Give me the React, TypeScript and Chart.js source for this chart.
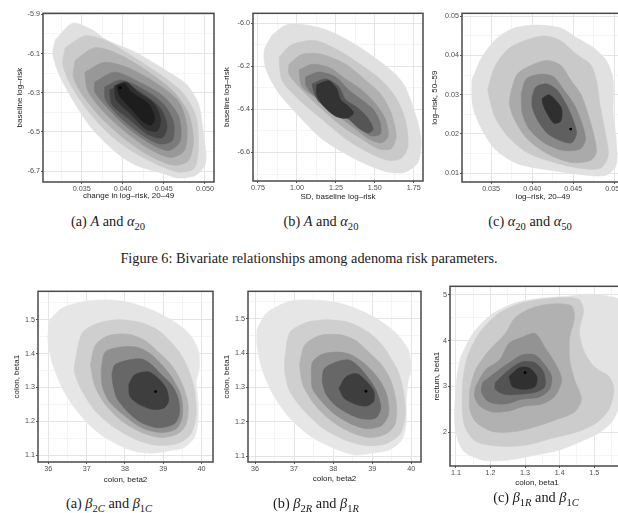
import React, { useEffect, useRef } from 'react';
import { Chart, registerables } from 'chart.js';
Chart.register(...registerables);

type Pt = [number, number];

// ---------- (a) top: change in log-risk 20-49 vs baseline log-risk ----------
const topA1: Pt[] = [[0.0318,-6.03],[0.0339,-5.945],[0.0363,-5.98],[0.038,-6.03],[0.0416,-6.095],[0.0452,-6.185],[0.0477,-6.255],[0.0492,-6.355],[0.0498,-6.505],[0.0501,-6.655],[0.0489,-6.72],[0.0468,-6.735],[0.0448,-6.71],[0.0416,-6.67],[0.0392,-6.605],[0.0363,-6.485],[0.0344,-6.37],[0.0324,-6.22],[0.0315,-6.105]];
const topA2: Pt[] = [[0.0330,-6.07],[0.0354,-6.01],[0.0380,-6.035],[0.0414,-6.12],[0.0450,-6.22],[0.0474,-6.305],[0.0489,-6.42],[0.0492,-6.57],[0.0487,-6.685],[0.0468,-6.705],[0.0444,-6.67],[0.0414,-6.605],[0.0386,-6.52],[0.0360,-6.405],[0.0338,-6.27],[0.0327,-6.155]];
const topA3: Pt[] = [[0.0342,-6.135],[0.0366,-6.07],[0.0396,-6.105],[0.0432,-6.195],[0.0462,-6.295],[0.0480,-6.405],[0.0486,-6.545],[0.0480,-6.645],[0.0462,-6.67],[0.0432,-6.62],[0.0402,-6.535],[0.0372,-6.42],[0.0350,-6.305],[0.0340,-6.22]];
const topA4: Pt[] = [[0.0354,-6.195],[0.0378,-6.145],[0.0408,-6.175],[0.0442,-6.255],[0.0468,-6.345],[0.0478,-6.47],[0.0475,-6.595],[0.0458,-6.63],[0.0432,-6.585],[0.0402,-6.495],[0.0374,-6.385],[0.0357,-6.285]];
const topA5: Pt[] = [[0.0366,-6.245],[0.0390,-6.195],[0.0420,-6.245],[0.0450,-6.32],[0.0468,-6.42],[0.0470,-6.545],[0.0456,-6.595],[0.0432,-6.555],[0.0402,-6.465],[0.0378,-6.36],[0.0366,-6.295]];
const topA6: Pt[] = [[0.0378,-6.27],[0.0398,-6.235],[0.0426,-6.285],[0.0450,-6.36],[0.0462,-6.455],[0.0460,-6.545],[0.0444,-6.56],[0.0420,-6.505],[0.0393,-6.41],[0.0379,-6.335]];
const topA7: Pt[] = [[0.0384,-6.285],[0.0402,-6.255],[0.0426,-6.31],[0.0446,-6.38],[0.0454,-6.47],[0.0448,-6.53],[0.0430,-6.51],[0.0408,-6.435],[0.0387,-6.36]];
const topA8: Pt[] = [[0.0390,-6.265],[0.0404,-6.245],[0.0418,-6.295],[0.0438,-6.355],[0.0446,-6.435],[0.0442,-6.495],[0.0428,-6.485],[0.0410,-6.41],[0.0392,-6.335]];
const topA9: Pt[] = [[0.0393,-6.265],[0.0402,-6.255],[0.0410,-6.295],[0.0432,-6.36],[0.0439,-6.435],[0.0434,-6.465],[0.0424,-6.445],[0.0411,-6.385],[0.0396,-6.315]];
const topAMode: Pt[] = [[0.0397,-6.275]];
const topAColors = ['#e0e0e0','#cbcbcb','#b3b3b3','#989898','#7b7b7b','#5f5f5f','#454545','#2f2f2f','#1d1d1d'];

// ---------- (b) top: SD baseline log-risk vs baseline log-risk ----------
const topB1: Pt[] = [[0.841,-6.055],[0.930,-6.009],[1.057,-6.009],[1.204,-6.036],[1.376,-6.1],[1.522,-6.173],[1.631,-6.236],[1.694,-6.295],[1.758,-6.418],[1.796,-6.536],[1.777,-6.645],[1.694,-6.691],[1.586,-6.691],[1.459,-6.659],[1.331,-6.614],[1.159,-6.536],[1.013,-6.432],[0.885,-6.327],[0.803,-6.218],[0.790,-6.127]];
const topB2: Pt[] = [[0.885,-6.159],[0.968,-6.1],[1.121,-6.082],[1.268,-6.127],[1.414,-6.195],[1.541,-6.264],[1.631,-6.341],[1.694,-6.445],[1.713,-6.568],[1.669,-6.627],[1.586,-6.636],[1.459,-6.6],[1.312,-6.536],[1.159,-6.445],[1.013,-6.355],[0.904,-6.264]];
const topB3: Pt[] = [[0.949,-6.191],[1.032,-6.145],[1.159,-6.145],[1.312,-6.191],[1.439,-6.264],[1.541,-6.332],[1.605,-6.418],[1.637,-6.523],[1.605,-6.582],[1.522,-6.582],[1.414,-6.536],[1.287,-6.477],[1.14,-6.386],[1.013,-6.295],[0.949,-6.236]];
const topB4: Pt[] = [[1.013,-6.218],[1.096,-6.191],[1.204,-6.205],[1.312,-6.259],[1.414,-6.309],[1.503,-6.373],[1.567,-6.445],[1.586,-6.523],[1.541,-6.555],[1.459,-6.536],[1.376,-6.491],[1.268,-6.432],[1.14,-6.355],[1.032,-6.295]];
const topB5: Pt[] = [[1.057,-6.25],[1.14,-6.227],[1.248,-6.25],[1.331,-6.309],[1.414,-6.355],[1.49,-6.4],[1.535,-6.464],[1.535,-6.514],[1.478,-6.523],[1.395,-6.486],[1.312,-6.432],[1.204,-6.386],[1.096,-6.327],[1.057,-6.286]];
const topB6: Pt[] = [[1.096,-6.282],[1.185,-6.259],[1.268,-6.295],[1.312,-6.355],[1.376,-6.386],[1.446,-6.432],[1.49,-6.491],[1.459,-6.509],[1.395,-6.486],[1.331,-6.445],[1.248,-6.418],[1.14,-6.364],[1.108,-6.318]];
const topB7: Pt[] = [[1.127,-6.286],[1.204,-6.268],[1.255,-6.305],[1.28,-6.355],[1.331,-6.386],[1.363,-6.418],[1.318,-6.441],[1.248,-6.432],[1.172,-6.386],[1.127,-6.332]];
const topBMode: Pt[] = [];
const topBColors = ['#e0e0e0','#c9c9c9','#b0b0b0','#959595','#777777','#555555','#333333'];

// ---------- (c) top: log-risk 20-49 vs log-risk 50-59 ----------
const topC1: Pt[] = [[0.03265,0.03375],[0.03386,0.0395],[0.03578,0.0445],[0.03783,0.047],[0.0406,0.04775],[0.04349,0.047],[0.04542,0.0445],[0.04747,0.042],[0.04904,0.03875],[0.04988,0.03375],[0.04988,0.02525],[0.05024,0.01875],[0.05024,0.012],[0.04904,0.0095],[0.04663,0.0095],[0.04386,0.01025],[0.0406,0.01125],[0.03783,0.01275],[0.03542,0.01625],[0.03386,0.02125],[0.03277,0.027]];
const topC2: Pt[] = [[0.03458,0.03125],[0.03542,0.037],[0.03699,0.0415],[0.03904,0.04375],[0.04145,0.045],[0.04349,0.04375],[0.04542,0.04025],[0.04711,0.03775],[0.04783,0.03375],[0.04831,0.027],[0.04892,0.02025],[0.04928,0.0145],[0.04831,0.01125],[0.0459,0.01125],[0.04265,0.01275],[0.0394,0.01525],[0.03699,0.0195],[0.03542,0.0245]];
const topC3: Pt[] = [[0.03747,0.03125],[0.03819,0.03525],[0.03988,0.0375],[0.04181,0.03875],[0.04349,0.0375],[0.0447,0.03375],[0.0459,0.03025],[0.04663,0.02625],[0.04747,0.02025],[0.04783,0.01525],[0.04711,0.01325],[0.0447,0.01275],[0.04181,0.015],[0.0394,0.01875],[0.03783,0.02375],[0.03723,0.02775]];
const topC4: Pt[] = [[0.03867,0.03025],[0.03928,0.034],[0.04108,0.03525],[0.04265,0.0345],[0.04386,0.03125],[0.04506,0.02775],[0.0459,0.02375],[0.04651,0.01875],[0.0459,0.01625],[0.04386,0.01575],[0.04145,0.01775],[0.03964,0.02125],[0.0388,0.02525]];
const topC5: Pt[] = [[0.04,0.0295],[0.04048,0.032],[0.04181,0.03275],[0.04301,0.03125],[0.0441,0.02775],[0.04482,0.0245],[0.04542,0.02025],[0.04482,0.01775],[0.04349,0.01825],[0.04181,0.02025],[0.0406,0.02375],[0.04,0.027]];
const topC6: Pt[] = [[0.0412,0.029],[0.04205,0.03],[0.04301,0.02825],[0.04361,0.02625],[0.04349,0.02325],[0.04265,0.02275],[0.04181,0.02525],[0.04133,0.0275]];
const topCMode: Pt[] = [[0.0447,0.02125]];
const topCColors = ['#e1e1e1','#c9c9c9','#aaaaaa','#898989','#5f5f5f','#2f2f2f'];

// ---------- (a) bottom: colon beta2 vs colon beta1 ----------
const botA1: Pt[] = [[36.04,1.5],[36.37,1.535],[36.97,1.555],[37.66,1.558],[38.18,1.549],[38.70,1.529],[39.21,1.5],[39.65,1.462],[39.91,1.413],[39.94,1.355],[39.86,1.317],[39.91,1.259],[39.91,1.201],[39.81,1.152],[39.55,1.123],[39.21,1.114],[38.70,1.106],[38.18,1.114],[37.48,1.152],[36.97,1.201],[36.45,1.28],[36.12,1.367],[35.99,1.442]];
const botA2: Pt[] = [[36.71,1.384],[36.89,1.462],[37.33,1.491],[37.85,1.5],[38.44,1.491],[38.88,1.468],[39.21,1.433],[39.47,1.396],[39.65,1.355],[39.81,1.297],[39.86,1.222],[39.73,1.164],[39.39,1.135],[38.88,1.129],[38.36,1.143],[37.74,1.181],[37.23,1.23],[36.89,1.288],[36.68,1.346]];
const botA3: Pt[] = [[37.10,1.367],[37.23,1.425],[37.59,1.454],[38.10,1.457],[38.52,1.439],[38.88,1.404],[39.21,1.367],[39.47,1.317],[39.65,1.251],[39.60,1.193],[39.39,1.164],[38.95,1.152],[38.44,1.167],[37.92,1.201],[37.48,1.251],[37.20,1.309]];
const botA4: Pt[] = [[37.38,1.352],[37.48,1.404],[37.85,1.419],[38.31,1.419],[38.67,1.399],[39.01,1.361],[39.26,1.323],[39.47,1.274],[39.50,1.216],[39.34,1.178],[38.93,1.167],[38.44,1.181],[38.0,1.216],[37.59,1.259],[37.41,1.303]];
const botA5: Pt[] = [[37.66,1.338],[37.74,1.367],[38.10,1.381],[38.44,1.384],[38.70,1.367],[38.95,1.338],[39.21,1.309],[39.39,1.268],[39.42,1.222],[39.29,1.193],[38.88,1.181],[38.44,1.196],[38.10,1.225],[37.79,1.268],[37.69,1.309]];
const botA6: Pt[] = [[38.10,1.309],[38.26,1.338],[38.62,1.346],[38.88,1.326],[39.08,1.297],[39.14,1.259],[39.01,1.239],[38.70,1.236],[38.36,1.251],[38.13,1.274]];
const botAMode: Pt[] = [[38.80,1.288]];
const botAColors = ['#e6e6e6','#cfcfcf','#b2b2b2','#8f8f8f','#676767','#3e3e3e'];

// ---------- (b) bottom: colon beta2 vs colon beta1 ----------
const botB1: Pt[] = [[36.05,1.469],[36.30,1.517],[36.89,1.551],[37.57,1.554],[38.15,1.546],[38.66,1.526],[39.16,1.497],[39.59,1.46],[39.92,1.411],[40.0,1.354],[39.92,1.317],[39.87,1.26],[39.87,1.194],[39.75,1.146],[39.42,1.117],[38.99,1.109],[38.58,1.103],[38.15,1.117],[37.47,1.154],[36.89,1.211],[36.46,1.28],[36.18,1.354],[36.05,1.423]];
const botB2: Pt[] = [[36.76,1.383],[36.89,1.46],[37.32,1.489],[37.82,1.497],[38.41,1.489],[38.91,1.46],[39.24,1.426],[39.49,1.383],[39.67,1.346],[39.80,1.289],[39.85,1.223],[39.72,1.166],[39.37,1.137],[38.86,1.131],[38.33,1.146],[37.72,1.183],[37.22,1.237],[36.89,1.289],[36.76,1.346]];
const botB3: Pt[] = [[37.14,1.366],[37.27,1.423],[37.65,1.451],[38.15,1.454],[38.58,1.437],[38.91,1.403],[39.24,1.366],[39.49,1.317],[39.62,1.251],[39.59,1.194],[39.37,1.166],[38.96,1.154],[38.46,1.169],[37.95,1.203],[37.52,1.251],[37.22,1.309]];
const botB4: Pt[] = [[37.44,1.337],[37.47,1.374],[37.72,1.397],[38.15,1.403],[38.48,1.394],[38.84,1.366],[39.16,1.326],[39.37,1.28],[39.42,1.223],[39.24,1.189],[38.86,1.18],[38.46,1.194],[38.03,1.223],[37.70,1.26],[37.47,1.297]];
const botB5: Pt[] = [[37.72,1.317],[37.77,1.354],[38.08,1.374],[38.41,1.38],[38.66,1.36],[38.91,1.326],[39.11,1.289],[39.22,1.24],[39.09,1.211],[38.73,1.209],[38.41,1.223],[38.08,1.246],[37.82,1.28]];
const botB6: Pt[] = [[38.15,1.297],[38.33,1.331],[38.61,1.34],[38.86,1.317],[39.04,1.289],[39.04,1.26],[38.86,1.246],[38.58,1.251],[38.28,1.269]];
const botBMode: Pt[] = [[38.84,1.289]];
const botBColors = ['#e6e6e6','#cfcfcf','#b2b2b2','#8f8f8f','#676767','#3e3e3e'];

// ---------- (c) bottom: colon beta1 vs rectum beta1 ----------
const botC1: Pt[] = [[1.114,3.642],[1.149,4.156],[1.206,4.585],[1.271,4.82],[1.349,4.927],[1.426,4.97],[1.483,5.013],[1.54,4.97],[1.577,4.863],[1.583,3.857],[1.577,2.786],[1.557,2.293],[1.52,2.015],[1.463,1.801],[1.397,1.608],[1.329,1.501],[1.254,1.394],[1.177,1.394],[1.12,1.608],[1.097,2.143],[1.1,2.936],[1.106,3.364]];
const botC2: Pt[] = [[1.12,3.15],[1.133,3.642],[1.167,4.156],[1.222,4.585],[1.29,4.82],[1.37,4.92],[1.454,4.906],[1.469,4.649],[1.457,4.221],[1.469,3.792],[1.5,3.428],[1.543,3.214],[1.557,2.936],[1.543,2.507],[1.511,2.229],[1.454,2.015],[1.377,1.865],[1.3,1.715],[1.226,1.694],[1.157,1.801],[1.125,2.143],[1.118,2.657]];
const botC3: Pt[] = [[1.14,2.936],[1.157,3.364],[1.197,3.792],[1.243,4.156],[1.271,4.499],[1.32,4.713],[1.377,4.799],[1.434,4.756],[1.443,4.499],[1.429,4.071],[1.429,3.578],[1.443,3.15],[1.463,2.722],[1.443,2.443],[1.397,2.293],[1.34,2.143],[1.271,2.015],[1.206,2.015],[1.157,2.229],[1.14,2.507]];
const botC4: Pt[] = [[1.157,3.0],[1.186,3.364],[1.226,3.578],[1.254,3.942],[1.291,4.071],[1.329,4.156],[1.357,3.857],[1.386,3.514],[1.406,3.15],[1.386,2.786],[1.349,2.615],[1.3,2.572],[1.254,2.465],[1.206,2.443],[1.169,2.572],[1.154,2.786]];
const botC5: Pt[] = [[1.177,3.086],[1.214,3.3],[1.254,3.514],[1.291,3.685],[1.329,3.685],[1.357,3.471],[1.377,3.214],[1.371,2.936],[1.34,2.764],[1.291,2.722],[1.243,2.615],[1.197,2.657],[1.174,2.872]];
const botC6: Pt[] = [[1.214,3.086],[1.254,3.364],[1.291,3.535],[1.329,3.514],[1.354,3.3],[1.357,3.0],[1.329,2.872],[1.283,2.829],[1.24,2.829],[1.214,2.936]];
const botC7: Pt[] = [[1.254,3.214],[1.283,3.407],[1.311,3.407],[1.334,3.214],[1.329,3.0],[1.297,2.936],[1.263,3.0]];
const botCMode: Pt[] = [[1.30,3.30]];
const botCColors = ['#e3e3e3','#cccccc','#b1b1b1','#939393','#747474','#535353','#303030'];

// ---------- layout / axis configuration ----------
const SANS = '"Liberation Sans", Arial, sans-serif';
const SERIF = '"Liberation Serif", "Times New Roman", serif';
const TITLE_SIZE = 8;
const TICK_SIZE = 7.2;

interface AxisCfg { min: number; max: number; minor: number; major: number; base: number; dec: number; title: string; }
interface PanelCfg {
  box: [number, number, number, number];
  yTitleX: number; xTitleY: number;
  x: AxisCfg; y: AxisCfg;
  levels: Pt[][]; colors: string[]; mode: Pt[];
}

const panels: PanelCfg[] = [
  { box: [43, 10, 216, 182], yTitleX: 20, xTitleY: 196,
    x: { min: 0.0303, max: 0.0511, minor: 0.0025, major: 0.005, base: 0.035, dec: 3, title: 'change in log–risk, 20–49' },
    y: { min: -6.755, max: -5.895, minor: 0.1, major: 0.2, base: -5.9, dec: 1, title: 'baseline log–risk' },
    levels: [topA1, topA2, topA3, topA4, topA5, topA6, topA7, topA8, topA9], colors: topAColors, mode: topAMode },
  { box: [253, 10, 423, 181], yTitleX: 227, xTitleY: 197,
    x: { min: 0.718, max: 1.809, minor: 0.125, major: 0.25, base: 0.75, dec: 2, title: 'SD, baseline log–risk' },
    y: { min: -6.732, max: -5.955, minor: 0.1, major: 0.2, base: -6.0, dec: 1, title: 'baseline log–risk' },
    levels: [topB1, topB2, topB3, topB4, topB5, topB6, topB7], colors: topBColors, mode: topBMode },
  { box: [462, 10, 626, 182], yTitleX: 435, xTitleY: 197,
    x: { min: 0.03145, max: 0.0512, minor: 0.0025, major: 0.005, base: 0.035, dec: 3, title: 'log–risk, 20–49' },
    y: { min: 0.00775, max: 0.05075, minor: 0.005, major: 0.01, base: 0.01, dec: 2, title: 'log–risk, 50–59' },
    levels: [topC1, topC2, topC3, topC4, topC5, topC6], colors: topCColors, mode: topCMode },
  { box: [38, 288, 215, 462], yTitleX: 17, xTitleY: 480,
    x: { min: 35.73, max: 40.30, minor: 0.5, major: 1, base: 36, dec: 0, title: 'colon, beta2' },
    y: { min: 1.08, max: 1.584, minor: 0.05, major: 0.1, base: 1.1, dec: 1, title: 'colon, beta1' },
    levels: [botA1, botA2, botA3, botA4, botA5, botA6], colors: botAColors, mode: botAMode },
  { box: [248, 288, 423, 462], yTitleX: 227, xTitleY: 479,
    x: { min: 35.82, max: 40.25, minor: 0.5, major: 1, base: 36, dec: 0, title: 'colon, beta2' },
    y: { min: 1.083, max: 1.58, minor: 0.05, major: 0.1, base: 1.1, dec: 1, title: 'colon, beta1' },
    levels: [botB1, botB2, botB3, botB4, botB5, botB6], colors: botBColors, mode: botBMode },
  { box: [450, 283, 626, 466], yTitleX: 437, xTitleY: 483,
    x: { min: 1.083, max: 1.586, minor: 0.05, major: 0.1, base: 1.1, dec: 1, title: 'colon, beta1' },
    y: { min: 1.263, max: 5.184, minor: 0.5, major: 1, base: 2, dec: 0, title: 'rectum, beta1' },
    levels: [botC1, botC2, botC3, botC4, botC5, botC6, botC7], colors: botCColors, mode: botCMode },
];

const boxPlugin = {
  id: 'panelBox',
  afterDatasetsDraw(chart: any) {
    const { ctx, chartArea: a } = chart;
    ctx.save();
    ctx.strokeStyle = '#4a4a4a';
    ctx.lineWidth = 1.5;
    ctx.strokeRect(a.left, a.top, a.right - a.left, a.bottom - a.top);
    ctx.restore();
  },
};

function makeAxis(a: AxisCfg, isX: boolean, fixed: number) {
  const isMajor = (v: number) => {
    const r = (v - a.base) / a.major;
    return Math.abs(r - Math.round(r)) < 1e-6;
  };
  const val = (c: any) => (c && c.tick ? c.tick.value : NaN);
  return {
    type: 'linear',
    position: isX ? 'bottom' : 'left',
    min: a.min,
    max: a.max,
    afterFit: (s: any) => { if (isX) s.height = fixed; else s.width = fixed; },
    border: { display: false },
    grid: {
      color: (c: any) => (isMajor(val(c)) ? '#e2e2e2' : '#efefef'),
      lineWidth: (c: any) => (isMajor(val(c)) ? 0.9 : 0.6),
      tickLength: 2,
      tickColor: (c: any) => (isMajor(val(c)) ? '#444444' : 'rgba(0,0,0,0)'),
      tickWidth: 0.9,
    },
    ticks: {
      stepSize: a.minor,
      includeBounds: false,
      autoSkip: false,
      maxRotation: 0,
      minRotation: 0,
      padding: 1,
      color: '#4d4d4d',
      font: { family: SANS, size: TICK_SIZE },
      callback: (v: any) => (isMajor(Number(v)) ? Number(v).toFixed(a.dec) : ''),
    },
    title: { display: true, text: a.title, color: '#1a1a1a', font: { family: SANS, size: TITLE_SIZE }, padding: 0 },
  };
}

function Panel({ cfg }: { cfg: PanelCfg }) {
  const ref = useRef<HTMLCanvasElement>(null);
  const [L, T, R, B] = cfg.box;
  const half = (TITLE_SIZE * 1.2) / 2;
  const cLeft = Math.round(cfg.yTitleX - half);
  const cTop = T - 2;
  const cRight = R + 2;
  const cBottom = Math.round(cfg.xTitleY + half);
  const W = cRight - cLeft;
  const H = cBottom - cTop;

  useEffect(() => {
    const n = cfg.levels.length;
    const datasets: any[] = cfg.levels.map((lv, i) => {
      const pts = lv.map(([x, y]) => ({ x, y }));
      pts.push({ x: lv[0][0], y: lv[0][1] });
      return {
        data: pts,
        order: n - i,
        fill: 'shape',
        backgroundColor: cfg.colors[i],
        borderColor: cfg.colors[i],
        borderWidth: 0.6,
        tension: 0.28,
        pointRadius: 0,
        pointHoverRadius: 0,
      };
    });
    datasets.push({
      data: cfg.mode.map(([x, y]) => ({ x, y })),
      order: 0,
      showLine: false,
      pointRadius: 1.4,
      pointBorderWidth: 0,
      pointBackgroundColor: '#000000',
      backgroundColor: '#000000',
      borderColor: '#000000',
    });
    const chart = new Chart(ref.current as HTMLCanvasElement, {
      type: 'line',
      data: { datasets },
      options: {
        responsive: false,
        animation: false,
        devicePixelRatio: 1,
        events: [],
        layout: { padding: { top: 2, right: 2, left: 0, bottom: 0 } },
        plugins: { legend: { display: false }, tooltip: { enabled: false } },
        scales: {
          x: makeAxis(cfg.x, true, cBottom - B),
          y: makeAxis(cfg.y, false, L - cLeft),
        },
      } as any,
      plugins: [boxPlugin],
    });
    return () => chart.destroy();
  }, []);

  return (
    <canvas
      ref={ref}
      width={W}
      height={H}
      style={{ position: 'absolute', left: cLeft, top: cTop, width: W, height: H }}
    />
  );
}

const subStyle: React.CSSProperties = { fontSize: '74%', verticalAlign: '-0.35em', lineHeight: 0 };

function Caption({ cx, cy, children }: { cx: number; cy: number; children: React.ReactNode }) {
  return (
    <div
      style={{
        position: 'absolute', left: cx - 200, width: 400, top: cy - 10, height: 20,
        textAlign: 'center', fontFamily: SERIF, fontSize: 14.3, lineHeight: '20px',
        color: '#1a1a1a', whiteSpace: 'nowrap',
      }}
    >
      {children}
    </div>
  );
}

export default function App() {
  return (
    <div style={{ position: 'absolute', left: 0, top: 0, width: 618, height: 513, overflow: 'hidden', background: '#ffffff' }}>
      {panels.map((p, i) => (
        <Panel key={i} cfg={p} />
      ))}
      <Caption cx={108} cy={221}>(a) <i>A</i> and <i>α</i><sub style={subStyle}>20</sub></Caption>
      <Caption cx={321} cy={221}>(b) <i>A</i> and <i>α</i><sub style={subStyle}>20</sub></Caption>
      <Caption cx={530} cy={221}>(c) <i>α</i><sub style={subStyle}>20</sub> and <i>α</i><sub style={subStyle}>50</sub></Caption>
      <Caption cx={309} cy={258}>Figure 6: Bivariate relationships among adenoma risk parameters.</Caption>
      <Caption cx={109} cy={503}>(a) <i>β</i><sub style={subStyle}>2<i>C</i></sub> and <i>β</i><sub style={subStyle}>1<i>C</i></sub></Caption>
      <Caption cx={316} cy={503}>(b) <i>β</i><sub style={subStyle}>2<i>R</i></sub> and <i>β</i><sub style={subStyle}>1<i>R</i></sub></Caption>
      <Caption cx={536} cy={497}>(c) <i>β</i><sub style={subStyle}>1<i>R</i></sub> and <i>β</i><sub style={subStyle}>1<i>C</i></sub></Caption>
    </div>
  );
}
